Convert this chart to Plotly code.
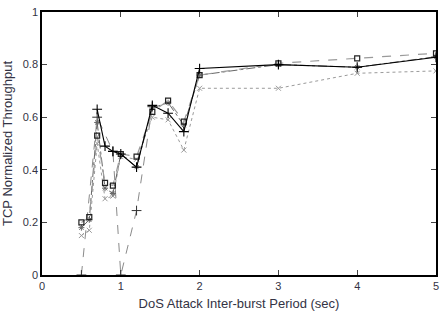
import plotly.graph_objects as go

x_a = [0.7, 0.8, 0.9, 1.0, 1.2, 1.4, 1.6, 1.8, 2.0, 3.0, 4.0, 5.0]
y_a = [0.63, 0.49, 0.47, 0.46, 0.41, 0.645, 0.615, 0.545, 0.785, 0.80, 0.79, 0.828]

x_e = [0.5, 0.7, 0.9, 1.0, 1.2, 1.4]
y_e = [0.0, 0.60, 0.47, 0.0, 0.245, 0.64]

x_b = [0.5, 0.6, 0.7, 0.8, 0.9, 1.0, 1.2, 1.4, 1.6, 1.8, 2.0, 3.0, 4.0, 5.0]
y_b = [0.20, 0.22, 0.53, 0.35, 0.34, 0.46, 0.45, 0.62, 0.663, 0.583, 0.76, 0.805, 0.824, 0.843]
y_c = [0.18, 0.21, 0.58, 0.33, 0.31, 0.46, 0.41, 0.635, 0.655, 0.57, 0.76, 0.80, 0.79, 0.83]
y_d = [0.15, 0.17, 0.50, 0.29, 0.30, 0.45, 0.44, 0.60, 0.59, 0.475, 0.71, 0.71, 0.767, 0.776]

fig = go.Figure()
fig.add_trace(go.Scatter(x=x_e, y=y_e, mode="lines+markers",
                         line=dict(color="#8a8a8a", width=1, dash="dash"),
                         marker=dict(symbol="cross-thin", size=7, line=dict(color="#333333", width=1))))
fig.add_trace(go.Scatter(x=x_b, y=y_d, mode="lines+markers",
                         line=dict(color="#9a9a9a", width=1, dash="dot"),
                         marker=dict(symbol="x-thin-open", size=5, line=dict(color="#666666", width=1))))
fig.add_trace(go.Scatter(x=x_b, y=y_c, mode="lines+markers",
                         line=dict(color="#666666", width=1, dash="dashdot"),
                         marker=dict(symbol="asterisk-open", size=5, line=dict(color="#222222", width=1))))
fig.add_trace(go.Scatter(x=x_b, y=y_b, mode="lines+markers",
                         line=dict(color="#9a9a9a", width=1.2, dash="dash"),
                         marker=dict(symbol="square-open", size=5, color="#222222", line=dict(width=1.2))))
fig.add_trace(go.Scatter(x=x_a, y=y_a, mode="lines+markers",
                         line=dict(color="black", width=1.1),
                         marker=dict(symbol="cross-thin", size=7, line=dict(color="black", width=1.1))))

font = dict(family="Liberation Sans Narrow, Arial Narrow, Liberation Sans, sans-serif", size=11, color="#333344")
fig.update_layout(
    width=441, height=326,
    margin=dict(l=42, r=3, t=12, b=51),
    paper_bgcolor="white", plot_bgcolor="white",
    showlegend=False,
    font=font,
    xaxis=dict(range=[0, 5], tickvals=[0, 1, 2, 3, 4, 5], ticks="inside", ticklen=5,
               showline=True, linecolor="black", linewidth=1.5, mirror="allticks",
               showgrid=False, zeroline=False,
               title=dict(text="DoS Attack Inter-burst Period (sec)", standoff=8)),
    yaxis=dict(range=[0, 1], tickvals=[0, 0.2, 0.4, 0.6, 0.8, 1], ticktext=["0", "0.2", "0.4", "0.6", "0.8", "1"],
               ticks="inside", ticklen=5,
               showline=True, linecolor="black", linewidth=1.5, mirror="allticks",
               showgrid=False, zeroline=False,
               title=dict(text="TCP Normalized Throughput", standoff=8)),
)
fig.write_html("out.html")
